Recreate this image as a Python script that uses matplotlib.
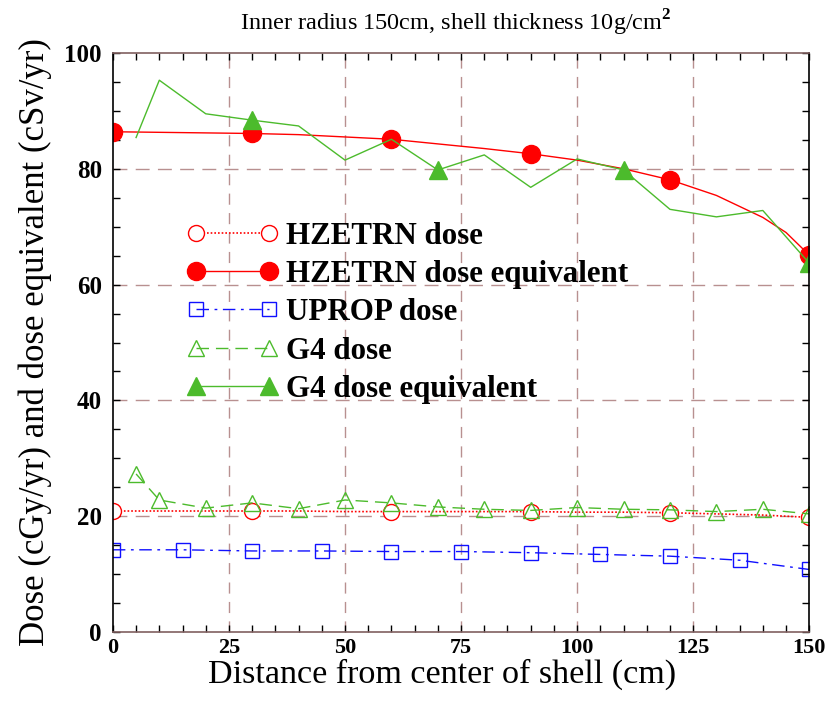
import matplotlib
matplotlib.use("Agg")
import matplotlib.pyplot as plt
from matplotlib.ticker import MultipleLocator

# HZETRN dose equivalent (cSv/yr), smooth curve with markers every 30 cm
hz_eq_x = [0, 10, 20, 30, 40, 50, 60, 70, 80, 90, 100, 110, 120, 130, 140, 145, 150]
hz_eq_y = [86.4, 86.3, 86.2, 86.1, 85.9, 85.5, 85.1, 84.3, 83.5, 82.6, 81.5, 80.0,
           78.1, 75.4, 71.6, 69.0, 65.1]
hz_eq_marks = [0, 3, 6, 9, 12, 16]

# HZETRN dose (cGy/yr)
hz_x = [0, 10, 20, 30, 40, 50, 60, 70, 80, 90, 100, 110, 120, 130, 140, 150]
hz_y = [20.9, 20.9, 20.9, 20.9, 20.9, 20.8, 20.8, 20.8, 20.8, 20.8, 20.7, 20.7,
        20.6, 20.4, 20.2, 19.8]
hz_marks = [0, 3, 6, 9, 12, 15]

# UPROP dose (cGy/yr)
up_x = [0, 15, 30, 45, 60, 75, 90, 105, 120, 135, 150]
up_y = [14.2, 14.2, 14.0, 14.0, 13.9, 13.9, 13.7, 13.4, 13.1, 12.4, 10.8]

# Geant4 dose and dose equivalent
g4_x = [5, 10, 20, 30, 40, 50, 60, 70, 80, 90, 100, 110, 120, 130, 140, 150]
g4_dose = [27.3, 22.8, 21.4, 22.3, 21.3, 22.8, 22.3, 21.6, 21.2, 21.0, 21.5, 21.2,
           21.1, 20.8, 21.2, 20.4]
g4_eq = [85.4, 95.3, 89.5, 88.4, 87.4, 81.5, 85.1, 79.8, 82.4, 76.8, 81.7, 79.8,
         73.0, 71.7, 72.8, 63.7]
g4_eq_marks = [3, 7, 11, 15]

x_ticks = [0, 25, 50, 75, 100, 125, 150]
y_ticks = [0, 20, 40, 60, 80, 100]

plt.rcParams['font.family'] = ['Liberation Serif', 'DejaVu Serif']
plt.rcParams['mathtext.fontset'] = 'custom'
plt.rcParams['mathtext.rm'] = 'Liberation Serif'
plt.rcParams['mathtext.bf'] = 'Liberation Serif:bold'

RED = '#ff0000'
BLUE = '#1010ff'
GREEN = '#4cbb2c'
GRID = '#b89090'

fig = plt.figure(figsize=(8.30, 7.01), dpi=100)
ax = fig.add_axes([0.136, 0.0984, 0.839, 0.826])

ax.set_xlim(0, 150)
ax.set_ylim(0, 100)

# dashed reference grid
for xv in x_ticks[1:-1]:
    ax.axvline(xv, color=GRID, lw=1.0, ls=(0, (8, 6)), zorder=0)
for yv in y_ticks[1:-1]:
    ax.axhline(yv, color=GRID, lw=1.0, ls=(0, (10, 6)), zorder=0)

ax.plot(hz_x, hz_y, ls=(0, (1, 1.2)), color=RED, lw=1.2, marker='o', ms=11.5,
        mfc='white', mec=RED, mew=1.0, markevery=hz_marks, label='HZETRN dose')
ax.plot(hz_eq_x, hz_eq_y, ls='-', color=RED, lw=1.0, marker='o', ms=13,
        mfc=RED, mec=RED, markevery=hz_eq_marks, label='HZETRN dose equivalent')
ax.plot(up_x, up_y, ls=(0, (9, 4, 2, 4)), color=BLUE, lw=1.0, marker='s', ms=10,
        mfc='none', mec=BLUE, mew=1.0, label='UPROP dose')
ax.plot(g4_x, g4_dose, ls=(0, (9, 5)), color=GREEN, lw=1.0, marker='^', ms=12,
        mfc='none', mec=GREEN, mew=1.0, label='G4 dose')
ax.plot(g4_x, g4_eq, ls='-', color=GREEN, lw=1.0, marker='^', ms=13,
        mfc=GREEN, mec=GREEN, markevery=g4_eq_marks, label='G4 dose equivalent')

ax.set_xticks(x_ticks)
ax.set_yticks(y_ticks)
ax.xaxis.set_minor_locator(MultipleLocator(5))
ax.yaxis.set_minor_locator(MultipleLocator(5))
ax.tick_params(which='both', direction='in', top=True, right=True,
               length=5, width=1.0)
ax.tick_params(axis='x', labelsize=16, pad=4)
ax.tick_params(axis='y', labelsize=18, pad=8)
for lab in ax.get_xticklabels() + ax.get_yticklabels():
    lab.set_fontweight('bold')

ax.spines['left'].set_color('black')
ax.spines['right'].set_color('black')
ax.spines['top'].set_color('#806060')
ax.spines['bottom'].set_color('#806060')
for s in ax.spines.values():
    s.set_linewidth(1.2)

ax.set_ylabel('Dose (cGy/yr) and dose equivalent (cSv/yr)', fontsize=25, labelpad=9)
ax.set_title('Inner radius 150cm, shell thickness 10g/cm$^{\\mathbf{2}}$',
             fontsize=17.5, pad=16, x=0.493)

leg = ax.legend(loc='upper left', bbox_to_anchor=(0.088, 0.730), frameon=False,
                numpoints=2, handlelength=2.95, handletextpad=0.26,
                labelspacing=0.3, borderaxespad=0,
                prop={'family': 'Liberation Serif', 'weight': 'bold', 'size': 22.3})

# place the x-axis title directly beneath the tick labels
fig.canvas.draw()
renderer = fig.canvas.get_renderer()
tick_bottom = min(t.get_window_extent(renderer).y0
                  for t in ax.get_xticklabels() if t.get_text())
label_top = ax.transAxes.inverted().transform((0, tick_bottom - 1))[1]
ax.set_xlabel('Distance from center of shell (cm)', fontsize=24.6)
ax.xaxis.set_label_coords(0.473, label_top, transform=ax.transAxes)
ax.xaxis.label.set_va('top')

fig.savefig('out.png', dpi=100)
